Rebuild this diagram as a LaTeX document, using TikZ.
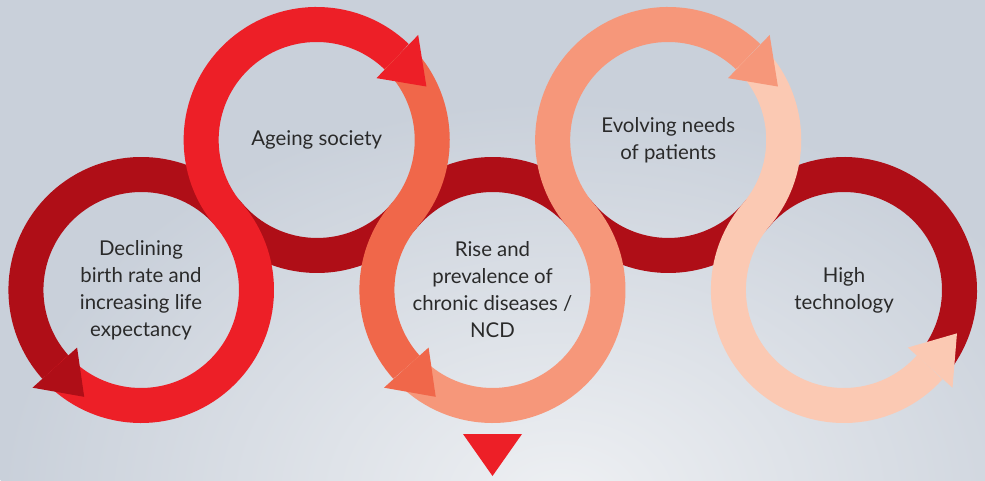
\documentclass[tikz,border=0pt]{standalone}
\usepackage{fontspec}
\setmainfont{Lato}
\usetikzlibrary{calc}
\definecolor{dkred}{HTML}{AF0E17}
\definecolor{brred}{HTML}{ED1F27}
\definecolor{orng}{HTML}{F0674A}
\definecolor{salmon}{HTML}{F6977A}
\definecolor{peach}{HTML}{FBC9B3}
\definecolor{txtgray}{HTML}{2A2A2A}
\definecolor{bgdark}{HTML}{C9D0DA}
\definecolor{bglight}{HTML}{EEF0F3}
\tikzset{
    band/.style={line width=0.875cm},
    ringtext/.style={align=center, text=txtgray, font=\fontsize{14.5}{19.2}\selectfont},
}
\begin{document}
\begin{tikzpicture}[x=0.025cm, y=0.025cm]
        \clip (0,0) rectangle (985,480);
        \fill[bgdark] (0,0) rectangle (985,480);
        \shade[inner color=bglight, outer color=bgdark] (560,-20) ellipse (560 and 400);

        \coordinate (c1) at (141,190);
        \coordinate (c2) at (316.75,340);
        \coordinate (c3) at (492.5,190);
        \coordinate (c4) at (668.25,340);
        \coordinate (c5) at (844,190);

        \draw[band, dkred] ($(c5)+(-35:115.5)$) arc[start angle=-35, end angle=139.5, radius=115.5]
            arc[start angle=319.5, end angle=220.5, radius=115.5]
            arc[start angle=40.5, end angle=139.5, radius=115.5]
            arc[start angle=319.5, end angle=220.5, radius=115.5]
            arc[start angle=40.5, end angle=222, radius=115.5];

        \draw[band, brred] ($(c1)+(222:115.5)$) arc[start angle=222, end angle=400.5, radius=115.5]
            arc[start angle=220.5, end angle=46, radius=115.5];
        \draw[band, orng] ($(c2)+(46:115.5)$) arc[start angle=46, end angle=-40.5, radius=115.5]
            arc[start angle=139.5, end angle=222, radius=115.5];
        \draw[band, salmon] ($(c3)+(222:115.5)$) arc[start angle=222, end angle=400.5, radius=115.5]
            arc[start angle=220.5, end angle=46, radius=115.5];
        \draw[band, peach] ($(c4)+(46:115.5)$) arc[start angle=46, end angle=-40.5, radius=115.5]
            arc[start angle=139.5, end angle=318, radius=115.5];

        \fill[dkred] ($(c1)+(222:86)$) -- ($(c1)+(222:146)$) -- ($(c1)+(242:121)$) -- cycle;
        \fill[brred] ($(c2)+(46:86)$) -- ($(c2)+(46:146)$) -- ($(c2)+(26:122)$) -- cycle;
        \fill[orng] ($(c3)+(222:86)$) -- ($(c3)+(222:146)$) -- ($(c3)+(242:121)$) -- cycle;
        \fill[salmon] ($(c4)+(46:86)$) -- ($(c4)+(46:146)$) -- ($(c4)+(26:122)$) -- cycle;
        \fill[peach] ($(c5)+(318:86)$) -- ($(c5)+(318:146)$) -- ($(c5)+(339:121)$) -- cycle;

        \fill[brred] (463,46) -- (522,46) -- (492.5,4) -- cycle;

        \node[ringtext] (t1) at (c1) {Declining\\birth rate and\\increasing life\\expectancy};
        \node[ringtext] (t2) at (c2) {Ageing society};
        \node[ringtext] (t3) at (c3) {Rise and\\prevalence of\\chronic diseases /\\NCD};
        \node[ringtext] (t4) at (c4) {Evolving needs\\of patients};
        \node[ringtext] (t5) at (c5) {High\\technology};
\end{tikzpicture}
\end{document}
